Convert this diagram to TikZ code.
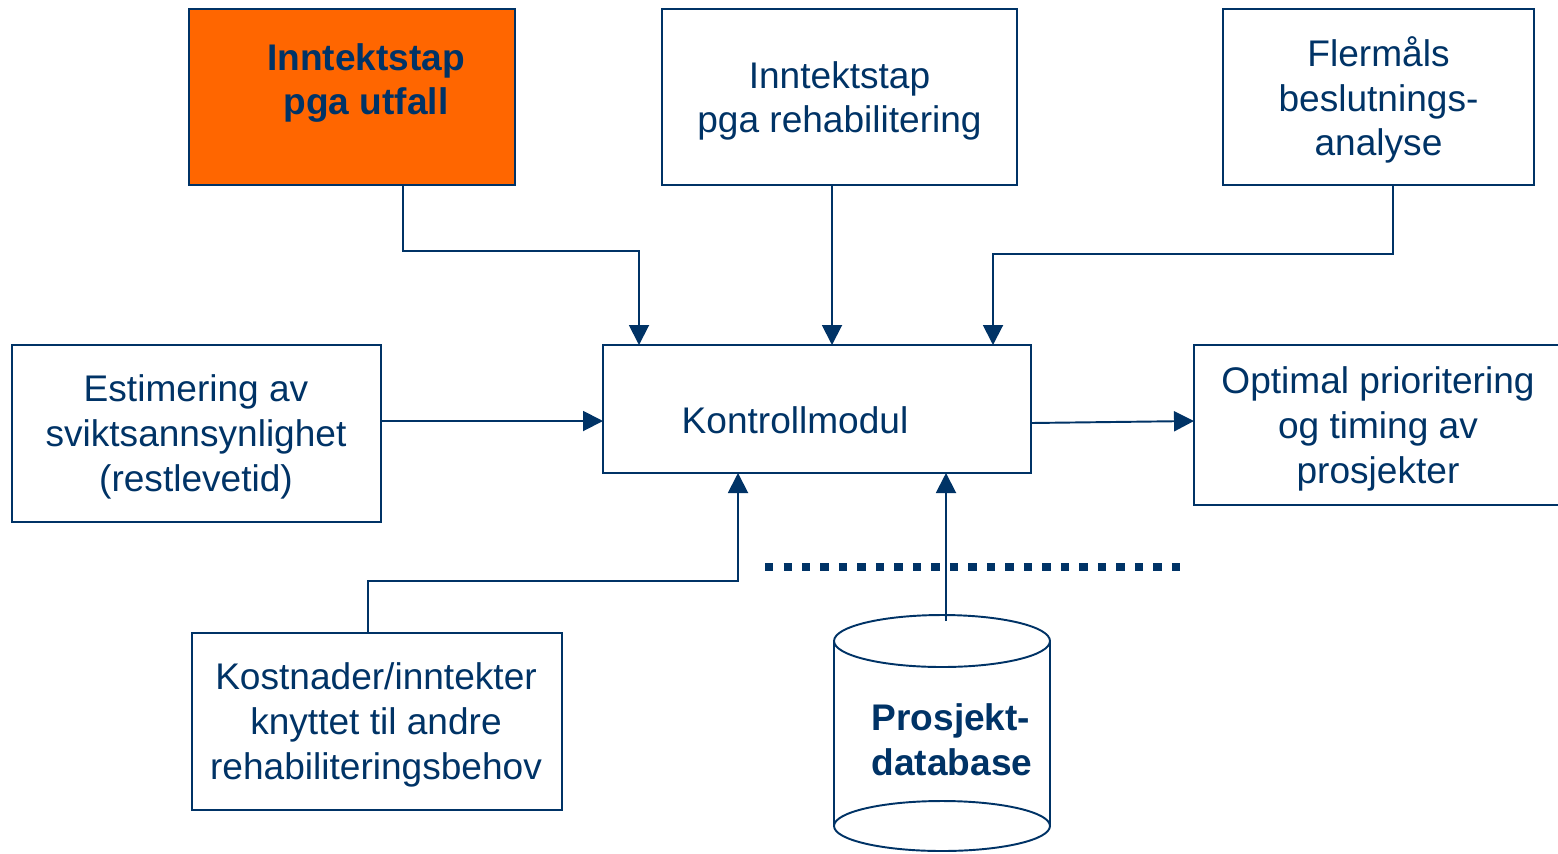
\documentclass[tikz,border=0pt]{standalone}
\usepackage{fontspec}
\setmainfont{Liberation Sans}
\usetikzlibrary{arrows.meta}
\definecolor{navy}{HTML}{003366}
\definecolor{orng}{HTML}{FF6600}
\newdimen\pxu
\pxu=0.02cm

\begin{document}
\begin{tikzpicture}[x=0.02cm,y=-0.02cm,
  box/.style={draw=navy, line width=1.1pt, inner sep=0pt, outer sep=0pt},
  txt/.style={text=navy, font=\fontsize{21.1}{25.4}\selectfont, align=center, inner sep=0pt},
  btxt/.style={txt, font=\fontsize{21.1}{25.4}\selectfont\bfseries},
  conn/.style={draw=navy, line width=1.1pt, -{Triangle[width=0.4cm,length=0.4cm]}}]
\useasboundingbox (0,0) rectangle (1558,853);
\fill[white] (0,0) rectangle (1558,853);

% boxes
\node[box, fill=orng, minimum width=326\pxu, minimum height=176\pxu] (orange) at (352,97) {};
\node[btxt] (orangetxt) at (366,83) {Inntektstap\\pga utfall};

\node[box, minimum width=355\pxu, minimum height=176\pxu] (rehab) at (839.5,97) {};
\node[txt] (rehabtxt) at (839.5,101) {Inntektstap\\pga rehabilitering};

\node[box, minimum width=311\pxu, minimum height=176\pxu] (flermal) at (1378.5,97) {};
\node[txt] (flermaltxt) at (1378.5,100) {Flermåls\\beslutnings-\\analyse};

\node[box, minimum width=369\pxu, minimum height=177\pxu] (est) at (196.5,433.5) {};
\node[txt] (esttxt) at (196,437) {Estimering av\\sviktsannsynlighet\\(restlevetid)};

\node[box, minimum width=428\pxu, minimum height=128\pxu] (kontroll) at (817,409) {};
\node[txt] (kontrolltxt) at (795,420) {Kontrollmodul};

\node[box, minimum width=386\pxu, minimum height=160\pxu] (opt) at (1387,425) {};
\node[txt] (opttxt) at (1378,429) {Optimal prioritering\\og timing av\\prosjekter};

\node[box, minimum width=370\pxu, minimum height=177\pxu] (kost) at (377,721.5) {};
\node[txt] (kosttxt) at (376,725) {Kostnader/inntekter\\knyttet til andre\\rehabiliteringsbehov};

% database cylinder
\draw[navy, line width=1.1pt] (834,641) -- (834,826) (1050,641) -- (1050,826);
\draw[navy, line width=1.1pt] (942,641) ellipse [x radius=2.16cm, y radius=0.52cm];
\draw[navy, line width=1.1pt] (942,826) ellipse [x radius=2.16cm, y radius=0.5cm];
\node[btxt, align=left] (dbtxt) at (952,740) {Prosjekt-\\database};

% dotted separator
\coordinate (dotA) at (765,567);
\coordinate (dotB) at (1180,567);
\draw[navy, line width=0.16cm, dash pattern=on 0.166cm off 0.204cm] (dotA) -- (dotB);

% connectors
\coordinate (c1) at (403,0);
\coordinate (c2) at (639,251);
\coordinate (c3) at (832,0);
\coordinate (c4) at (1393,0);
\coordinate (c5) at (993,254);
\coordinate (c6) at (0,421);
\coordinate (c7) at (0,423);
\coordinate (c9) at (368,0);
\coordinate (c10) at (738,581);
\coordinate (dbtop) at (946,621);

\draw[conn] (orange.south -| c1) |- (c2) -- (kontroll.north -| c2);
\draw[conn] (rehab.south -| c3) -- (kontroll.north -| c3);
\draw[conn] (flermal.south -| c4) |- (c5) -- (kontroll.north -| c5);
\draw[conn] (est.east |- c6) -- (kontroll.west |- c6);
\draw[conn] (kontroll.east |- c7) -- (opt.west |- c6);
\draw[conn] (kost.north -| c9) |- (c10) -- (kontroll.south -| c10);
\draw[conn] (dbtop) -- (kontroll.south -| dbtop);
\end{tikzpicture}
\end{document}
